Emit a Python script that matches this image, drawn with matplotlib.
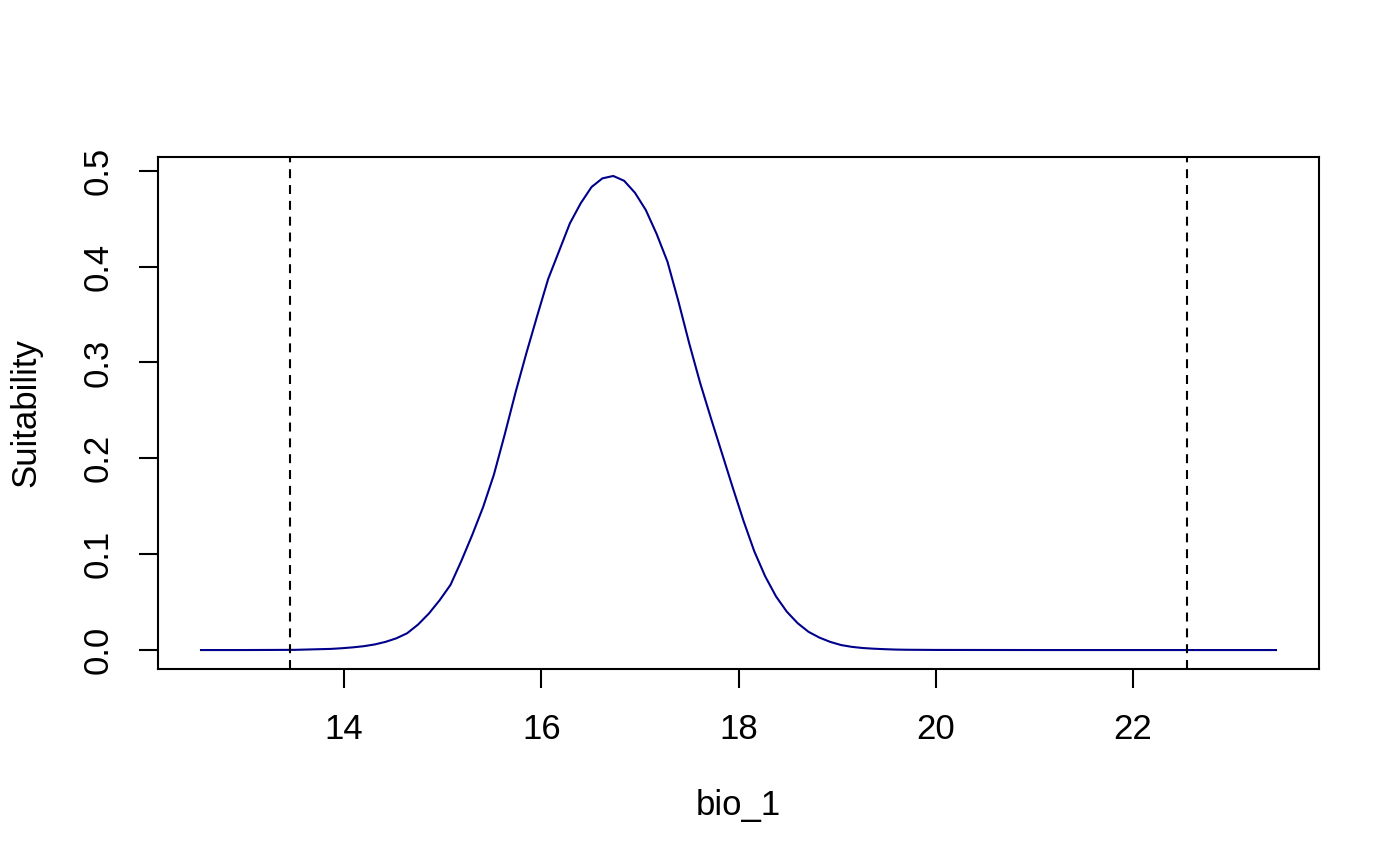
import matplotlib.pyplot as plt

plt.rcParams['font.family'] = ['Liberation Sans', 'DejaVu Sans']

# response curve (bio_1 vs suitability)
bio_1 = [12.55, 13.00, 13.50, 13.87, 13.98, 14.09, 14.20, 14.31, 14.42, 14.53,
         14.64, 14.75, 14.86, 14.97, 15.08, 15.19, 15.30, 15.41, 15.52, 15.63,
         15.74, 15.85, 15.96, 16.07, 16.18, 16.29, 16.40, 16.51, 16.62, 16.73,
         16.84, 16.95, 17.06, 17.17, 17.28, 17.39, 17.50, 17.61, 17.72, 17.83,
         17.94, 18.05, 18.16, 18.27, 18.38, 18.49, 18.60, 18.71, 18.82, 18.93,
         19.04, 19.15, 19.26, 19.37, 19.48, 19.59, 19.70, 20.00, 21.00, 22.00,
         23.45]
suitability = [0.0, 0.0, 0.0002, 0.0012, 0.0019, 0.0028, 0.0040, 0.0058, 0.0085, 0.0122,
               0.0175, 0.0265, 0.0380, 0.0520, 0.0680, 0.0930, 0.1200, 0.1490, 0.1830, 0.2250,
               0.2690, 0.3100, 0.3490, 0.3870, 0.4160, 0.4450, 0.4660, 0.4830, 0.4920, 0.4945,
               0.4895, 0.4770, 0.4590, 0.4340, 0.4050, 0.3640, 0.3200, 0.2790, 0.2420, 0.2060,
               0.1700, 0.1350, 0.1030, 0.0770, 0.0560, 0.0400, 0.0280, 0.0190, 0.0130, 0.0085,
               0.0052, 0.0033, 0.0021, 0.0014, 0.0009, 0.0005, 0.0003, 0.0001, 0.0, 0.0,
               0.0]

# dashed reference lines (range limits)
vlines = [13.45, 22.55]

fig = plt.figure(figsize=(14, 8.66), dpi=100)
ax = fig.add_axes([158/1400, 1 - 669/866, (1319 - 158)/1400, (669 - 157)/866])

ax.plot(bio_1, suitability, color='#00008B', lw=1.5)
for v in vlines:
    ax.axvline(v, color='black', lw=1.5, dashes=(4.3, 3.3))

# R style 4% padding
xr = max(bio_1) - min(bio_1)
yr = max(suitability) - min(suitability)
ax.set_xlim(min(bio_1) - 0.04 * xr, max(bio_1) + 0.04 * xr)
ax.set_ylim(min(suitability) - 0.04 * yr, max(suitability) + 0.04 * yr)

ax.set_xticks([14, 16, 18, 20, 22])
ax.set_yticks([0.0, 0.1, 0.2, 0.3, 0.4, 0.5])
ax.set_yticklabels(['0.0', '0.1', '0.2', '0.3', '0.4', '0.5'], rotation=90, va='center')
ax.tick_params(axis='both', length=14, width=1.5, labelsize=25)
ax.tick_params(axis='x', pad=18)
ax.tick_params(axis='y', pad=17)
for s in ax.spines.values():
    s.set_linewidth(1.5)

fig.text(738/1400, 1 - 805/866, 'bio_1', fontsize=25, ha='center', va='center')
fig.text(26/1400, 1 - 413/866, 'Suitability', fontsize=25, rotation=90,
         ha='center', va='center')

fig.savefig('out.png', dpi=100)
